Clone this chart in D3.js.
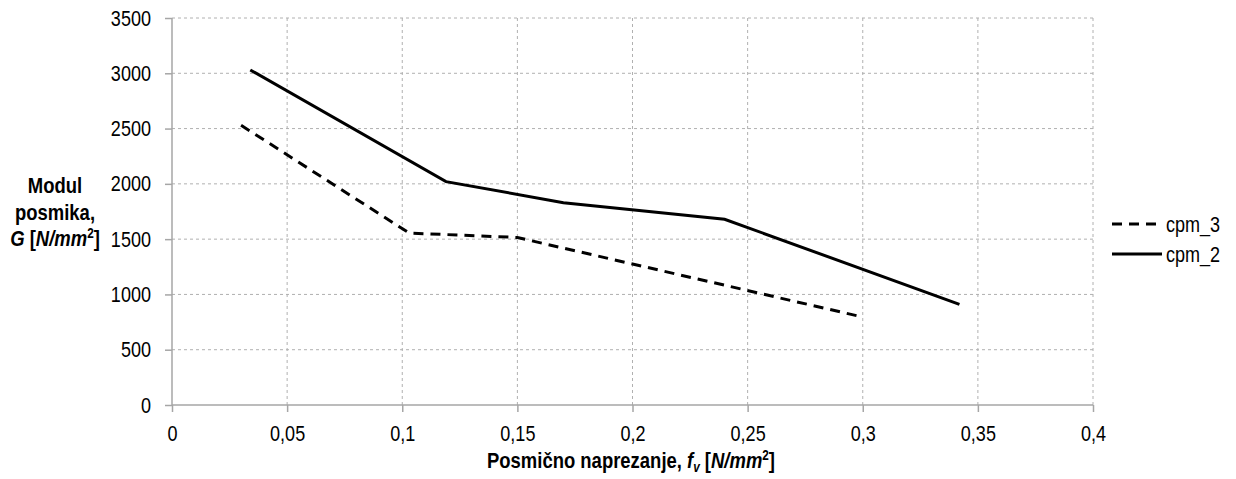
<!DOCTYPE html>
<html>
<head>
<meta charset="utf-8">
<script src="https://cdn.jsdelivr.net/npm/d3@7"></script>
<style>
  html, body { margin: 0; padding: 0; background: #fff; }
  svg { display: block; }
  text { font-family: "Liberation Sans", Arial, sans-serif; fill: #000; }
</style>
</head>
<body>
<svg id="chart" width="1236" height="479"></svg>
<script>
// ---- data ----
const xTicks = [0, 0.05, 0.1, 0.15, 0.2, 0.25, 0.3, 0.35, 0.4];
const yTicks = [0, 500, 1000, 1500, 2000, 2500, 3000, 3500];
const seriesNames = ["cpm_3", "cpm_2"];
const cpm3X = [0.030, 0.103, 0.150, 0.298];
const cpm3Y = [2530, 1555, 1515, 805];
const cpm2X = [0.034, 0.119, 0.170, 0.240, 0.342];
const cpm2Y = [3030, 2020, 1830, 1680, 910];

(function () {
const fmt = v => String(v).replace(".", ",");
const SX = 0.82;   // narrow-font emulation

const svg = d3.select("#chart");
const pL = 172, pR = 1093, pT = 18, pB = 405;

const x = d3.scaleLinear().domain([0, 0.4]).range([pL, pR]);
const y = d3.scaleLinear().domain([0, 3500]).range([pB, pT]);

// grid
const grid = svg.append("g");
grid.selectAll("line.h").data(yTicks.filter(d => d > 0)).enter().append("line")
  .attr("x1", pL).attr("x2", pR)
  .attr("y1", d => y(d)).attr("y2", d => y(d))
  .attr("stroke", "#b0b0b0").attr("stroke-width", 1).attr("stroke-dasharray", "3,3");
grid.selectAll("line.v").data(xTicks.filter(d => d > 0)).enter().append("line")
  .attr("y1", pT).attr("y2", pB)
  .attr("x1", d => x(d)).attr("x2", d => x(d))
  .attr("stroke", "#b0b0b0").attr("stroke-width", 1).attr("stroke-dasharray", "3,3");

// axes
const yAxis = d3.axisLeft(y).tickValues(yTicks).tickSize(7).tickPadding(14).tickFormat(d => d);
const gy = svg.append("g").attr("transform", `translate(${pL},0)`).call(yAxis);
const xAxis = d3.axisBottom(x).tickValues(xTicks).tickSize(7).tickPadding(13).tickFormat(fmt);
const gx = svg.append("g").attr("transform", `translate(0,${pB})`).call(xAxis);
[gx, gy].forEach(g => {
  g.select(".domain").attr("stroke", "#a6a6a6").attr("stroke-width", 1.5);
  g.selectAll(".tick line").attr("stroke", "#a6a6a6").attr("stroke-width", 1.5);
  g.selectAll(".tick text").attr("font-size", 22).attr("fill", "#000")
    .style("font-family", '"Liberation Sans", Arial, sans-serif');
});
gy.selectAll(".tick text").each(function () {
  const t = d3.select(this);
  const tx = +t.attr("x");
  t.attr("x", 0).attr("transform", `translate(${tx},0) scale(${SX},1)`);
});
gx.selectAll(".tick text").each(function () {
  const t = d3.select(this);
  const ty = +t.attr("y");
  t.attr("y", 0).attr("transform", `translate(0,${ty}) scale(${SX},1)`);
});
gy.select(".domain").attr("d", `M0,${pB}V${pT}`);
gx.select(".domain").attr("d", `M${pL},0H${pR}`);

// lines
const line = d3.line().x(d => x(d[0])).y(d => y(d[1]));
const cpm3 = cpm3X.map((v, i) => [v, cpm3Y[i]]);
const cpm2 = cpm2X.map((v, i) => [v, cpm2Y[i]]);
svg.append("path").datum(cpm3).attr("d", line)
  .attr("fill", "none").attr("stroke", "#000").attr("stroke-width", 3)
  .attr("stroke-dasharray", "10,7");
svg.append("path").datum(cpm2).attr("d", line)
  .attr("fill", "none").attr("stroke", "#000").attr("stroke-width", 3);

// legend
const leg = svg.append("g");
const legY = [224, 254];
const dashes = ["10,7", null];
seriesNames.forEach((name, i) => {
  const l = leg.append("line").attr("x1", 1112).attr("x2", 1162)
    .attr("y1", legY[i]).attr("y2", legY[i])
    .attr("stroke", "#000").attr("stroke-width", 3);
  if (dashes[i]) l.attr("stroke-dasharray", dashes[i]);
  leg.append("text").attr("transform", `translate(1166,${legY[i] + 8}) scale(${SX},1)`)
    .attr("font-size", 22).text(name);
});

// y axis title
const SB = 0.84;
function yLine(yy) {
  return svg.append("text").attr("text-anchor", "middle").attr("font-weight", "bold")
    .attr("font-size", 22).attr("transform", `translate(55,${yy}) scale(${SB},1)`);
}
yLine(193).text("Modul");
yLine(220).text("posmika,");
const t3 = yLine(246);
t3.append("tspan").attr("font-style", "italic").text("G");
t3.append("tspan").text(" [");
t3.append("tspan").attr("font-style", "italic").text("N/mm");
t3.append("tspan").attr("font-size", 14).attr("dy", -8).text("2");
t3.append("tspan").attr("dy", 8).text("]");

// x axis title
const xt = svg.append("text").attr("transform", `translate(631,468) scale(${SB},1)`)
  .attr("text-anchor", "middle").attr("font-weight", "bold").attr("font-size", 22);
xt.append("tspan").text("Posmično naprezanje, ");
xt.append("tspan").attr("font-style", "italic").text("f");
xt.append("tspan").attr("font-style", "italic").attr("font-size", 14).attr("dy", 4).text("v");
xt.append("tspan").attr("dy", -4).text(" [");
xt.append("tspan").attr("font-style", "italic").text("N/mm");
xt.append("tspan").attr("font-size", 14).attr("dy", -8).text("2");
xt.append("tspan").attr("dy", 8).text("]");
})();
</script>
</body>
</html>
